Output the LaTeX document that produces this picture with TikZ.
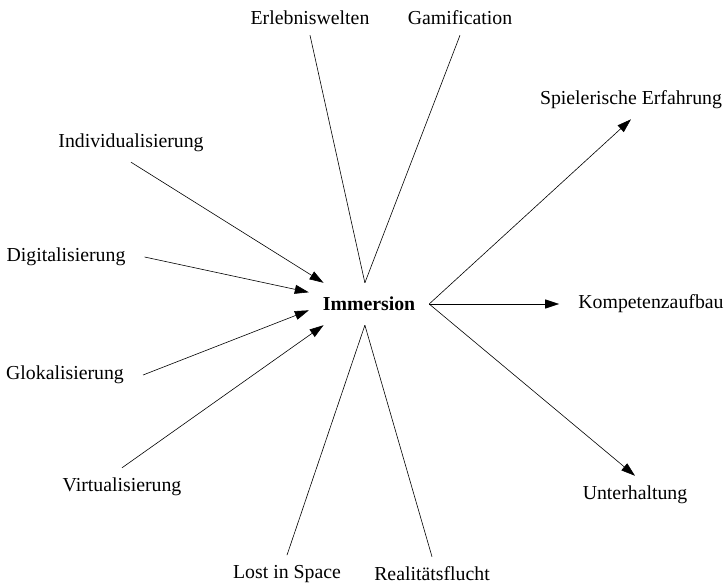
\documentclass[tikz,border=0pt]{standalone}
\usepackage{fontspec}
\setmainfont{Liberation Serif}
\usetikzlibrary{arrows.meta}

\begin{document}
\begin{tikzpicture}[
        x=1pt, y=-1pt,
        every node/.style={font=\fontsize{19.8}{24}\selectfont},
        hub/.style={minimum width=120pt, minimum height=42pt, inner sep=0pt, font=\fontsize{19.8}{24}\selectfont\bfseries},
        term/.style={inner xsep=19pt, inner ysep=10pt},
        arrow/.style={-{Triangle[length=14pt, width=9pt]}, line width=0.6pt},
        link/.style={line width=0.6pt}
    ]
    \useasboundingbox (0,0) rectangle (725,585);

    \node [hub] (imm) at (369,304) {Immersion};

    % top and bottom pairs
    \node [term] (erl) at (310,18) {Erlebniswelten};
    \node [term] (gam) at (460,18) {Gamification};
    \node [term] (los) at (287,574) {Lost in Space};
    \node [term] (rea) at (432,574) {Realitätsflucht};

    % left side
    \node [term] (ind) at (131,143) {Individualisierung};
    \node [term] (dig) at (66,257) {Digitalisierung};
    \node [term] (glo) at (65,375) {Glokalisierung};
    \node [term] (vir) at (122,487) {Virtualisierung};

    % right side
    \node [term] (spi) at (631,100) {Spielerische Erfahrung};
    \node [term] (kom) at (651,304) {Kompetenzaufbau};
    \node [term] (unt) at (635,495) {Unterhaltung};

    \draw [link] (erl.south) -- (imm.101);
    \draw [link] (gam.south) -- (imm.101);
    \draw [link] (los.north) -- (imm.259);
    \draw [link] (rea.north) -- (imm.259);

    \draw [arrow] (ind.south) -- (imm.155);
    \draw [arrow] (dig.east) -- (imm.169);
    \draw [arrow] (glo.east) -- (imm.186);
    \draw [arrow] (vir.north) -- (imm.205);

    \draw [arrow] (imm.east) -- (spi.south);
    \draw [arrow] (imm.east) -- (kom.west);
    \draw [arrow] (imm.east) -- (unt.north);
\end{tikzpicture}
\end{document}
